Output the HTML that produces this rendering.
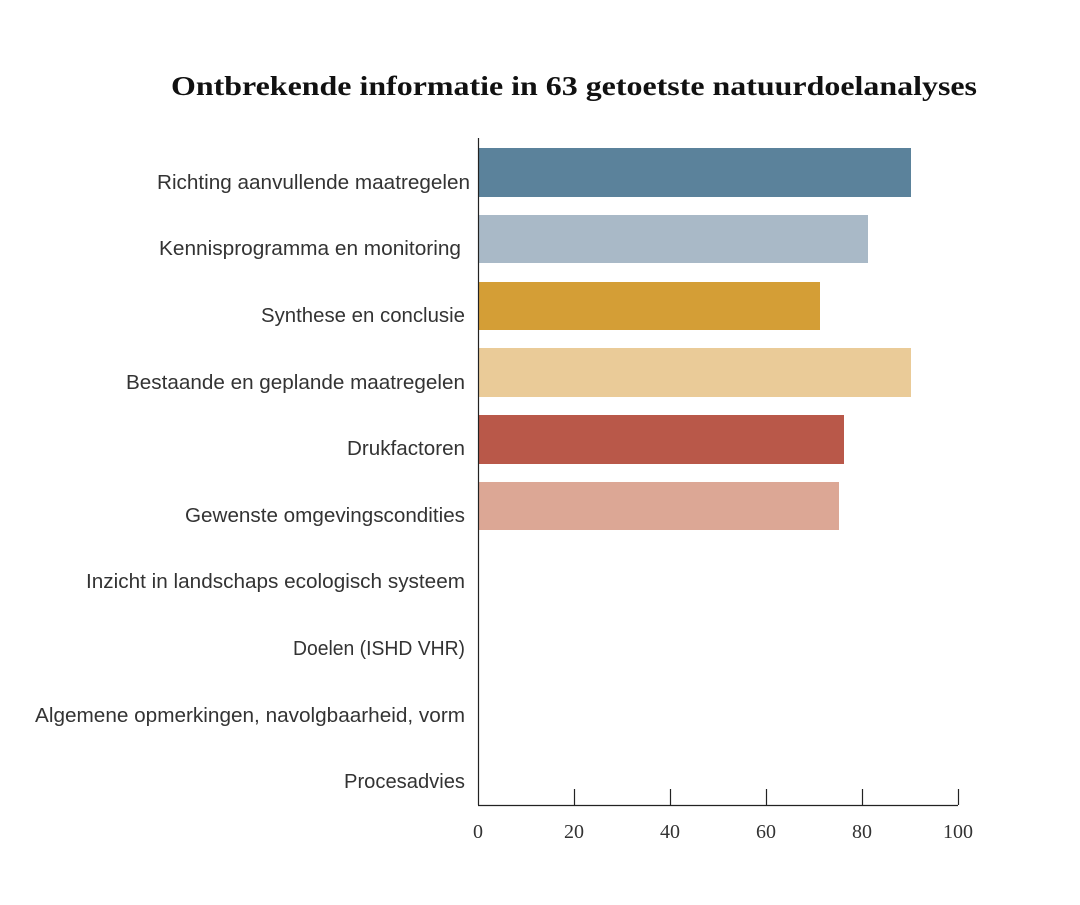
<!DOCTYPE html>
<html><head><meta charset="utf-8"><style>
body{margin:0;background:#fff;}
</style></head><body>
<svg width="1080" height="900" xmlns="http://www.w3.org/2000/svg">
<rect width="1080" height="900" fill="#fff"/>
<text x="171" y="95" textLength="806" lengthAdjust="spacingAndGlyphs" font-family="Liberation Serif, serif" font-weight="bold" font-size="27" fill="#111">Ontbrekende informatie in 63 getoetste natuurdoelanalyses</text>
<g>
<rect x="478" y="148" width="433" height="49" fill="#5b829b"/>
<rect x="478" y="215" width="390" height="48" fill="#a9b9c7"/>
<rect x="478" y="282" width="342" height="48" fill="#d49e36"/>
<rect x="478" y="348" width="433" height="49" fill="#eacb98"/>
<rect x="478" y="415" width="366" height="49" fill="#b95849"/>
<rect x="478" y="482" width="361" height="48" fill="#dca795"/>
</g>
<g font-family="Liberation Sans, sans-serif" font-size="20" fill="#333" lengthAdjust="spacingAndGlyphs">
<text x="157" y="189" textLength="313" lengthAdjust="spacingAndGlyphs">Richting aanvullende maatregelen</text>
<text x="159" y="255" textLength="302" lengthAdjust="spacingAndGlyphs">Kennisprogramma en monitoring</text>
<text x="261" y="322" textLength="204" lengthAdjust="spacingAndGlyphs">Synthese en conclusie</text>
<text x="126" y="389" textLength="339" lengthAdjust="spacingAndGlyphs">Bestaande en geplande maatregelen</text>
<text x="347" y="455" textLength="118" lengthAdjust="spacingAndGlyphs">Drukfactoren</text>
<text x="185" y="522" textLength="280" lengthAdjust="spacingAndGlyphs">Gewenste omgevingscondities</text>
<text x="86" y="588" textLength="379" lengthAdjust="spacingAndGlyphs">Inzicht in landschaps ecologisch systeem</text>
<text x="293" y="655" textLength="172" lengthAdjust="spacingAndGlyphs">Doelen (ISHD VHR)</text>
<text x="35" y="722" textLength="430" lengthAdjust="spacingAndGlyphs">Algemene opmerkingen, navolgbaarheid, vorm</text>
<text x="344" y="788" textLength="121" lengthAdjust="spacingAndGlyphs">Procesadvies</text>
</g>
<g stroke="#222" stroke-width="1.2">
<line x1="478.5" y1="138" x2="478.5" y2="805"/>
<line x1="478" y1="805.5" x2="958" y2="805.5"/>
<line x1="574.5" y1="789" x2="574.5" y2="805"/>
<line x1="670.5" y1="789" x2="670.5" y2="805"/>
<line x1="766.5" y1="789" x2="766.5" y2="805"/>
<line x1="862.5" y1="789" x2="862.5" y2="805"/>
<line x1="958.5" y1="789" x2="958.5" y2="805"/>
</g>
<g font-family="Liberation Serif, serif" font-size="20" fill="#333" text-anchor="middle">
<text x="478" y="838">0</text>
<text x="574" y="838">20</text>
<text x="670" y="838">40</text>
<text x="766" y="838">60</text>
<text x="862" y="838">80</text>
<text x="958" y="838">100</text>
</g>
</svg>
</body></html>
